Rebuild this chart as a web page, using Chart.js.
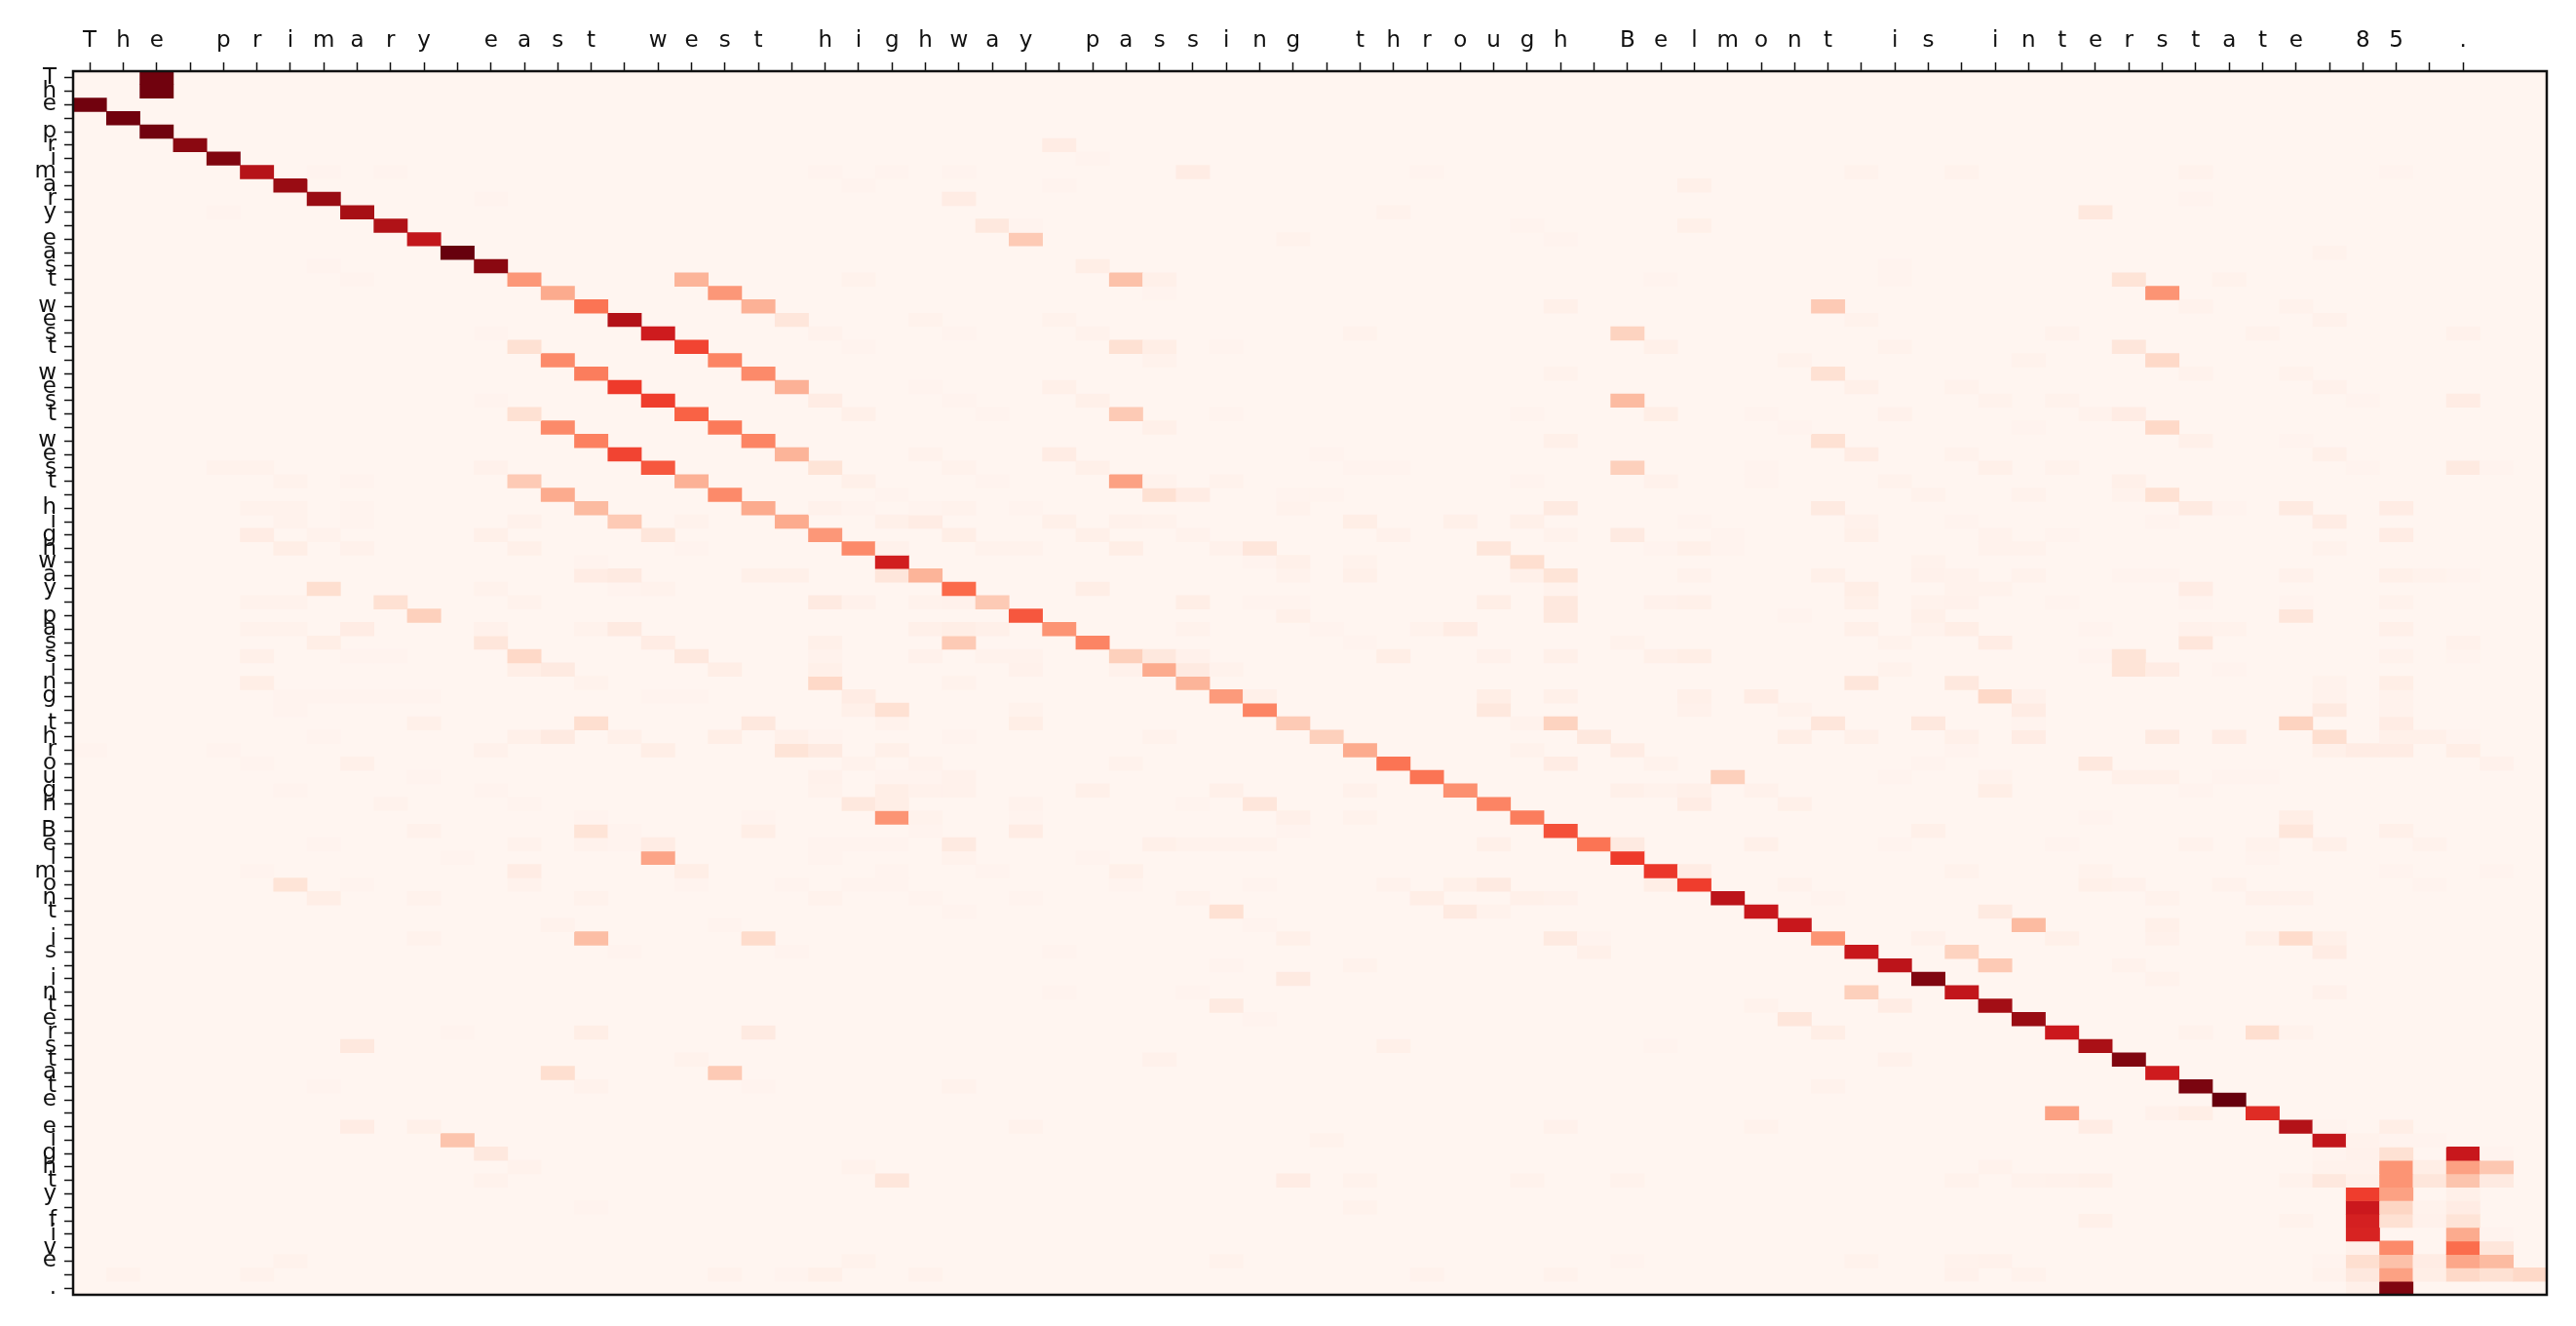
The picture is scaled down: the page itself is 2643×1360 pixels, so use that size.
<!DOCTYPE html>
<html>
<head>
<meta charset="utf-8">
<title>Attention map</title>
<script src="https://cdn.jsdelivr.net/npm/chart.js@4/dist/chart.umd.min.js"></script>
<style>
html,body{margin:0;padding:0;background:#fff;}
canvas{display:block;}
</style>
</head>
<body>
<canvas id="chart" width="2643" height="1360"></canvas>
<script>
// source sentence along the top
const xLabels = "The primary east west highway passing through Belmont is interstate 85 .".split("");
// decoded characters down the side
const yLabels = "The primary east west west west highway passing through Belmont is interstate eighty five .".split("");
const columnCount = 74;

// one list per row of the picture: [column, weight], empty cells left out
const cellRows = [
[[2,.98]],
[[2,.98]],
[[0,.98]],
[[1,.98]],
[[2,.98]],
[[3,.93],[29,.07]],
[[4,.95],[30,.02]],
[[5,.82],[7,.02],[9,.02],[22,.02],[24,.02],[26,.02],[33,.07],[40,.02],[53,.03],[56,.03],[63,.03],[69,.02]],
[[6,.9],[23,.02],[29,.02],[48,.05]],
[[7,.9],[12,.02],[26,.07],[63,.02]],
[[4,.02],[8,.87],[39,.03],[60,.09]],
[[9,.84],[27,.09],[28,.02],[43,.02],[48,.05]],
[[10,.78],[28,.2],[36,.03],[44,.02]],
[[11,1],[67,.03]],
[[7,.02],[12,.93],[30,.06],[54,.02]],
[[8,.02],[13,.36],[18,.27],[23,.03],[31,.23],[32,.05],[47,.02],[54,.02],[61,.11],[64,.03]],
[[14,.3],[19,.36],[32,.02],[62,.37]],
[[15,.47],[20,.28],[44,.05],[52,.2],[63,.03],[66,.03]],
[[16,.83],[21,.1],[25,.03],[29,.03],[53,.03],[67,.04]],
[[12,.02],[17,.74],[22,.03],[26,.02],[30,.03],[38,.03],[46,.17],[59,.03],[65,.03],[71,.04]],
[[13,.12],[18,.6],[23,.02],[31,.12],[32,.06],[34,.02],[47,.05],[54,.03],[61,.1]],
[[14,.4],[19,.42],[32,.03],[51,.03],[58,.03],[62,.15]],
[[15,.44],[20,.4],[44,.03],[52,.12],[63,.03],[66,.03]],
[[16,.63],[21,.28],[25,.02],[29,.05],[53,.05],[56,.03],[67,.04]],
[[12,.02],[17,.62],[22,.07],[26,.02],[30,.05],[46,.25],[57,.03],[59,.03],[68,.02],[71,.07]],
[[13,.12],[18,.52],[23,.05],[27,.02],[31,.2],[34,.02],[43,.02],[47,.06],[50,.02],[54,.04],[60,.03],[61,.07]],
[[14,.4],[19,.45],[32,.05],[51,.02],[58,.02],[62,.15]],
[[15,.43],[20,.42],[44,.05],[52,.12],[63,.05],[66,.02]],
[[16,.6],[21,.27],[25,.03],[29,.07],[37,.02],[53,.07],[56,.03],[67,.05]],
[[4,.03],[5,.03],[12,.04],[17,.55],[22,.11],[26,.03],[30,.05],[38,.02],[39,.02],[46,.18],[50,.02],[57,.05],[59,.03],[68,.02],[71,.08],[72,.02]],
[[6,.03],[8,.02],[13,.2],[18,.28],[23,.05],[27,.02],[31,.33],[32,.03],[34,.03],[43,.02],[47,.04],[50,.02],[54,.03],[61,.05]],
[[14,.3],[19,.4],[24,.02],[32,.12],[33,.07],[36,.02],[37,.02],[55,.03],[58,.03],[61,.03],[62,.12]],
[[5,.03],[6,.03],[8,.02],[15,.25],[20,.3],[22,.04],[23,.02],[25,.02],[26,.03],[28,.02],[36,.03],[44,.08],[52,.08],[63,.08],[64,.02],[66,.08],[69,.07]],
[[6,.03],[8,.02],[13,.04],[16,.2],[18,.03],[21,.3],[24,.05],[25,.07],[29,.05],[31,.04],[32,.03],[38,.06],[41,.05],[43,.05],[48,.02],[53,.04],[56,.02],[62,.02],[67,.07]],
[[5,.07],[7,.03],[12,.05],[17,.1],[22,.36],[26,.06],[30,.05],[33,.03],[39,.04],[44,.03],[46,.08],[49,.02],[53,.05],[57,.03],[59,.02],[69,.07]],
[[6,.06],[8,.04],[13,.05],[18,.02],[23,.4],[24,.04],[27,.03],[28,.03],[31,.06],[34,.04],[35,.1],[42,.1],[47,.02],[48,.05],[49,.02],[57,.03],[58,.03],[67,.03]],
[[15,.02],[24,.73],[35,.02],[36,.05],[38,.03],[43,.13],[55,.03]],
[[15,.07],[16,.08],[20,.05],[21,.05],[24,.1],[25,.27],[36,.03],[38,.05],[43,.05],[44,.11],[48,.03],[52,.05],[55,.04],[56,.03],[58,.03],[61,.02],[62,.02],[66,.04],[69,.05],[70,.03],[71,.02]],
[[7,.13],[12,.03],[16,.02],[17,.03],[26,.5],[30,.06],[44,.03],[53,.06],[56,.03],[57,.03],[63,.07]],
[[5,.03],[6,.03],[9,.12],[13,.03],[22,.08],[23,.04],[25,.03],[26,.04],[27,.2],[33,.06],[35,.02],[36,.02],[42,.06],[44,.09],[47,.04],[48,.05],[53,.05],[55,.03],[56,.04],[59,.02],[63,.02],[66,.02],[69,.03]],
[[10,.18],[28,.55],[36,.05],[44,.09],[51,.02],[55,.05],[66,.1]],
[[5,.03],[6,.03],[8,.07],[12,.04],[15,.03],[16,.08],[25,.05],[26,.06],[27,.05],[29,.37],[33,.03],[37,.02],[40,.03],[41,.07],[53,.05],[55,.03],[56,.06],[60,.02],[63,.04],[64,.03],[69,.05]],
[[7,.06],[12,.1],[17,.07],[22,.05],[26,.2],[30,.42],[38,.02],[46,.03],[54,.03],[57,.07],[63,.1],[71,.04]],
[[5,.05],[8,.02],[9,.02],[13,.15],[18,.09],[22,.03],[25,.04],[27,.03],[28,.03],[31,.18],[32,.09],[33,.04],[39,.06],[42,.04],[44,.05],[47,.05],[48,.06],[60,.02],[61,.11],[69,.03],[71,.02]],
[[13,.06],[14,.08],[19,.06],[22,.05],[28,.04],[31,.04],[32,.3],[33,.08],[34,.03],[54,.03],[61,.11],[62,.07],[64,.02]],
[[5,.06],[15,.03],[22,.15],[26,.03],[33,.27],[53,.1],[56,.09],[67,.03],[69,.06]],
[[6,.02],[7,.02],[8,.02],[9,.02],[10,.02],[17,.02],[18,.02],[23,.07],[34,.35],[35,.05],[42,.06],[44,.05],[48,.05],[50,.07],[57,.15],[58,.04],[67,.03],[69,.03]],
[[6,.02],[23,.05],[24,.12],[28,.03],[35,.42],[42,.09],[48,.04],[51,.03],[58,.07],[67,.08],[69,.03]],
[[10,.05],[15,.13],[20,.09],[24,.03],[28,.06],[36,.2],[43,.03],[44,.17],[52,.1],[55,.09],[58,.02],[66,.17],[69,.07]],
[[7,.02],[13,.05],[14,.08],[16,.05],[19,.06],[21,.05],[22,.02],[26,.02],[32,.03],[37,.18],[45,.09],[51,.06],[53,.05],[56,.05],[58,.07],[62,.08],[64,.07],[67,.13],[69,.05],[70,.05],[71,.02]],
[[0,.02],[4,.02],[12,.04],[17,.06],[21,.11],[22,.08],[24,.05],[38,.3],[43,.03],[46,.07],[56,.02],[67,.05],[68,.07],[69,.07],[71,.06]],
[[5,.02],[8,.05],[23,.03],[25,.03],[31,.03],[39,.47],[44,.07],[47,.03],[55,.02],[60,.09],[72,.04]],
[[10,.02],[22,.04],[24,.02],[25,.02],[26,.04],[40,.47],[49,.18],[54,.02],[57,.03],[61,.05],[62,.05],[64,.02],[65,.02]],
[[6,.02],[12,.02],[22,.03],[24,.06],[25,.04],[26,.04],[30,.05],[34,.05],[38,.04],[41,.38],[46,.05],[47,.03],[48,.05],[50,.04],[57,.06],[63,.02]],
[[9,.03],[13,.02],[23,.09],[24,.06],[28,.03],[33,.02],[35,.1],[42,.42],[48,.07],[51,.05]],
[[15,.02],[20,.02],[24,.37],[25,.03],[28,.02],[36,.05],[38,.03],[43,.44],[60,.02],[66,.06]],
[[10,.04],[15,.11],[16,.02],[20,.06],[25,.02],[28,.07],[36,.02],[44,.57],[55,.05],[66,.1],[69,.05]],
[[7,.02],[13,.03],[15,.03],[16,.02],[17,.07],[22,.02],[23,.02],[24,.02],[26,.08],[32,.05],[33,.03],[34,.03],[35,.03],[42,.05],[45,.47],[46,.08],[50,.05],[54,.02],[59,.02],[63,.03],[65,.03],[67,.05],[70,.03]],
[[11,.02],[17,.32],[22,.02],[26,.03],[30,.02],[46,.63],[65,.02]],
[[5,.02],[13,.07],[18,.06],[24,.02],[27,.02],[31,.05],[47,.64],[48,.07],[56,.03],[60,.03],[69,.02],[72,.02]],
[[6,.11],[8,.02],[13,.03],[18,.02],[21,.02],[23,.02],[24,.02],[31,.02],[35,.02],[39,.03],[41,.05],[42,.08],[47,.06],[48,.62],[51,.03],[60,.05],[61,.04],[64,.03],[70,.02]],
[[7,.06],[10,.03],[15,.03],[22,.03],[25,.02],[28,.02],[33,.03],[40,.06],[43,.05],[44,.04],[49,.8],[52,.02],[62,.03],[65,.04],[66,.04]],
[[26,.02],[34,.12],[41,.08],[42,.03],[50,.76],[57,.08]],
[[14,.03],[19,.02],[35,.02],[51,.76],[58,.25],[62,.05]],
[[10,.03],[15,.24],[20,.14],[36,.05],[44,.08],[45,.02],[52,.37],[55,.04],[59,.05],[62,.04],[65,.05],[66,.14],[67,.05]],
[[16,.02],[21,.02],[29,.02],[45,.05],[53,.76],[56,.17],[67,.07]],
[[34,.02],[38,.03],[54,.8],[57,.2],[61,.03]],
[[36,.08],[55,.95],[62,.03]],
[[29,.02],[33,.02],[53,.18],[56,.78],[67,.04]],
[[34,.08],[50,.03],[54,.07],[57,.88]],
[[35,.02],[51,.1],[58,.9]],
[[11,.02],[15,.06],[20,.08],[52,.06],[59,.75],[63,.03],[65,.13],[66,.03]],
[[8,.09],[39,.05],[47,.02],[60,.86]],
[[18,.03],[32,.04],[54,.04],[61,.95]],
[[14,.13],[19,.2],[62,.74]],
[[7,.02],[15,.03],[20,.02],[26,.03],[52,.03],[63,.96]],
[[64,1]],
[[59,.33],[62,.04],[63,.06],[65,.68]],
[[8,.07],[10,.05],[28,.03],[44,.04],[50,.03],[60,.07],[66,.83],[67,.02],[69,.06]],
[[11,.22],[37,.03],[67,.78],[68,.03],[69,.02],[70,.02]],
[[12,.09],[67,.02],[68,.04],[69,.12],[71,.76],[72,.02]],
[[13,.03],[23,.03],[57,.03],[67,.03],[68,.03],[69,.37],[70,.06],[71,.33],[72,.21]],
[[12,.03],[24,.1],[36,.07],[38,.03],[43,.03],[46,.03],[56,.03],[58,.03],[59,.04],[60,.05],[66,.03],[67,.09],[68,.05],[69,.37],[70,.1],[71,.22],[72,.08]],
[[68,.62],[69,.33],[71,.05]],
[[15,.02],[38,.03],[68,.75],[69,.16],[70,.03],[71,.07]],
[[60,.05],[66,.03],[68,.72],[69,.12],[70,.04],[71,.11]],
[[68,.71],[71,.3],[72,.02]],
[[68,.05],[69,.4],[71,.49],[72,.1]],
[[6,.03],[23,.03],[34,.03],[46,.02],[53,.03],[56,.03],[57,.04],[67,.02],[68,.13],[69,.23],[70,.07],[71,.31],[72,.25]],
[[1,.03],[5,.03],[19,.03],[21,.02],[22,.05],[25,.03],[40,.03],[44,.03],[56,.04],[58,.03],[67,.03],[68,.09],[69,.33],[70,.06],[71,.15],[72,.12],[73,.15]],
[[68,.05],[69,.95]]
];

// Reds colour map, equally spaced stops
const redsStops = [[255,245,240],[254,224,210],[252,187,161],[252,146,114],[251,106,74],[239,59,44],[203,24,29],[165,15,21],[103,0,13]];

function redsColor(v){
  // the faintest weights were read a little high, pull them back towards the background
  if(v<0.12) v = v*(0.35+0.65*v/0.12);
  const p = Math.min(v,1)*(redsStops.length-1), i = Math.min(Math.floor(p),redsStops.length-2), t = p-i;
  const c = redsStops[i].map((a,k)=>Math.round(a+(redsStops[i+1][k]-a)*t));
  return `rgb(${c[0]},${c[1]},${c[2]})`;
}

// each row is a dataset of floating bars, one bar per filled column
const datasets = cellRows.map((cells,row)=>{
  const data = new Array(columnCount).fill(null);
  const colors = new Array(columnCount).fill("transparent");
  cells.forEach(([col,v])=>{ data[col]=[row-0.5,row+0.5]; colors[col]=redsColor(v); });
  return {data, backgroundColor:colors, borderWidth:0, borderSkipped:false, barPercentage:1, categoryPercentage:1, grouped:false};
});

const columnLabels = xLabels.concat(new Array(columnCount-xLabels.length).fill(""));
const tickFont = {family:"'DejaVu Sans'", size:23};

const plotFrame = {
  id:"plotFrame",
  beforeDatasetsDraw(chart){
    const {ctx,chartArea:a} = chart;
    ctx.save(); ctx.fillStyle="#fff5f0"; ctx.fillRect(a.left,a.top,a.width,a.height); ctx.restore();
  },
  afterDatasetsDraw(chart){
    const {ctx,chartArea:a} = chart;
    ctx.save(); ctx.strokeStyle="#111"; ctx.lineWidth=2.5; ctx.strokeRect(a.left,a.top,a.width,a.height); ctx.restore();
  }
};

new Chart(document.getElementById("chart"),{
  type:"bar",
  data:{labels:columnLabels, datasets},
  plugins:[plotFrame],
  options:{
    responsive:false,
    animation:false,
    devicePixelRatio:1,
    events:[],
    layout:{padding:{left:0,top:0,right:30,bottom:32}},
    plugins:{legend:{display:false},tooltip:{enabled:false},title:{display:false}},
    scales:{
      x:{
        type:"category",
        position:"top",
        offset:true,
        afterFit(s){ s.height=73; },
        border:{display:false},
        grid:{offset:false,drawOnChartArea:false,tickLength:9,tickWidth:1.5,
              tickColor:c=>c.index<xLabels.length?"#111":"transparent"},
        ticks:{autoSkip:false,maxRotation:0,minRotation:0,padding:8,color:"#111",font:tickFont}
      },
      y:{
        type:"linear",
        reverse:true,
        min:-0.5,
        max:yLabels.length-0.5,
        afterFit(s){ s.width=75; },
        afterBuildTicks(s){ s.ticks=yLabels.map((_,i)=>({value:i})); },
        border:{display:false},
        grid:{drawOnChartArea:false,tickLength:9,tickWidth:1.5,tickColor:"#111"},
        ticks:{autoSkip:false,padding:8,color:"#111",font:tickFont,callback:v=>yLabels[v]}
      }
    }
  }
});
</script>
</body>
</html>
